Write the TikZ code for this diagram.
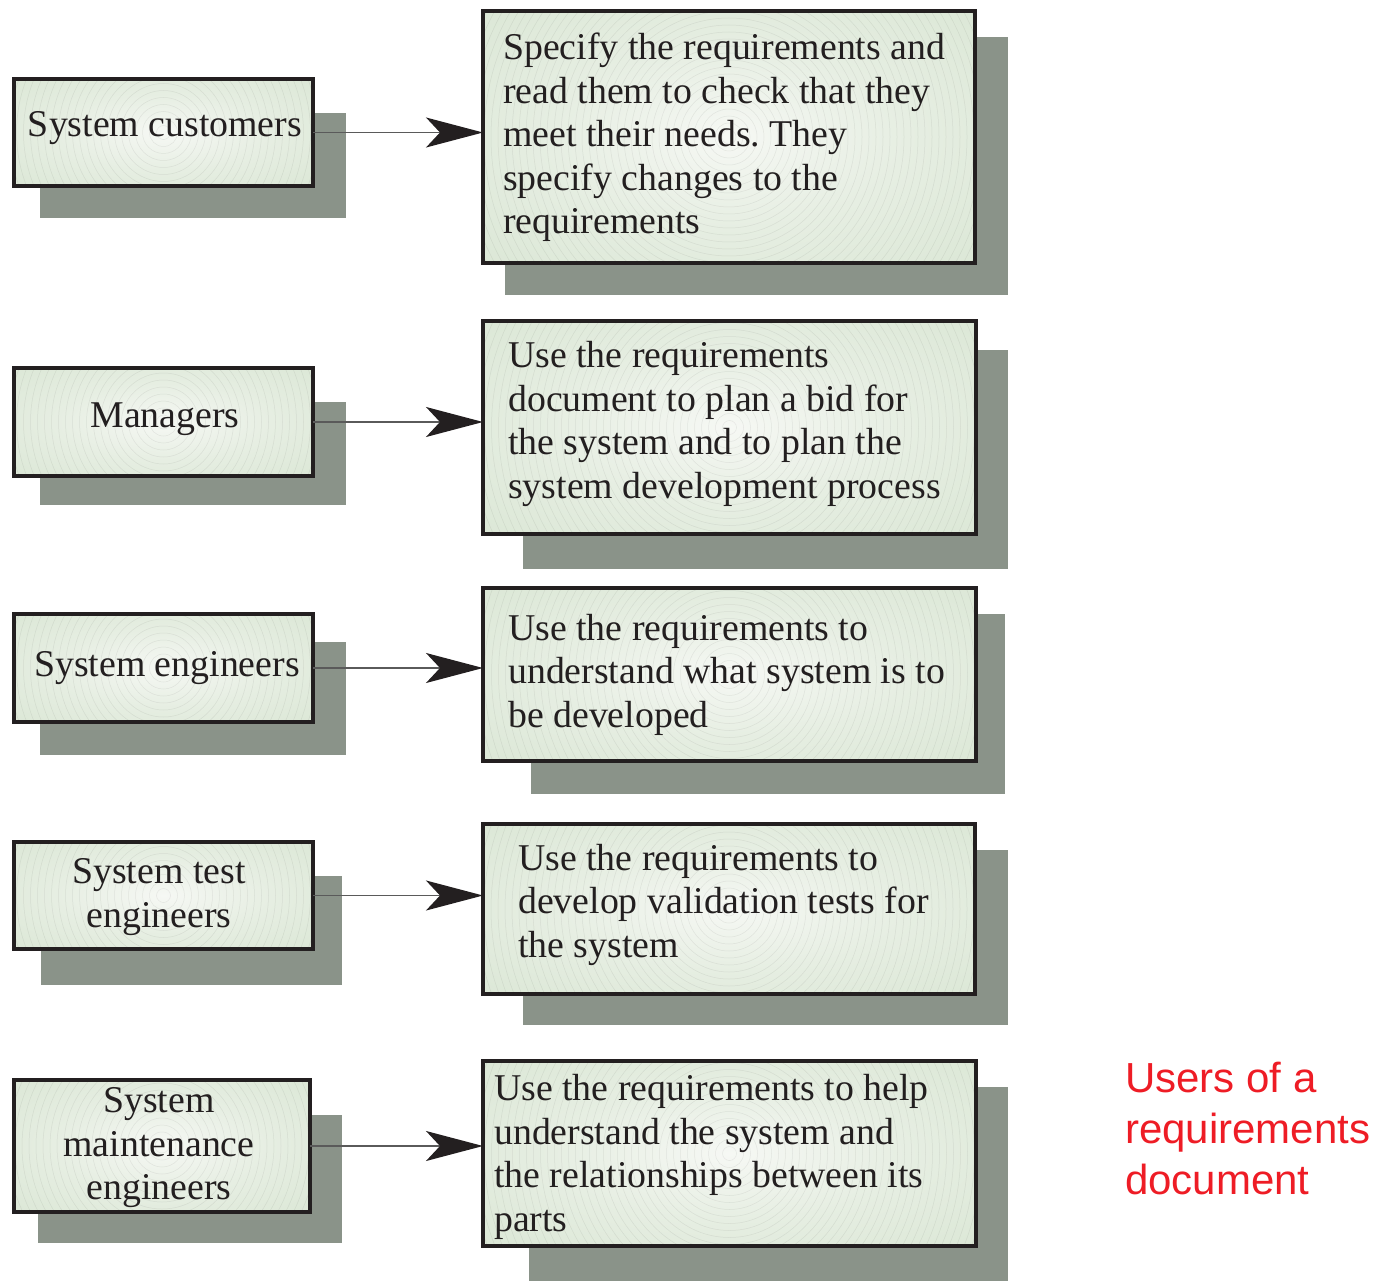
\documentclass[tikz,border=0pt]{standalone}
\usepackage{fontspec}
\setmainfont{Liberation Serif}
\newfontfamily\notesans{Liberation Sans}
\usetikzlibrary{arrows.meta}
\frenchspacing

\definecolor{ink}{HTML}{231F20}
\definecolor{dropgray}{HTML}{8A9389}
\definecolor{paleinner}{HTML}{F6F8F4}
\definecolor{palemid}{HTML}{E6EEE2}
\definecolor{paleouter}{HTML}{D6E4D0}
\definecolor{notered}{HTML}{EE1C25}
\definecolor{wire}{HTML}{5A5A5A}

% soft glow from the middle of each card out to its corners
\pgfdeclareradialshading{cardglow}{\pgfpoint{0bp}{0bp}}{%
  color(0bp)=(paleinner); color(18bp)=(palemid); color(45bp)=(paleouter);
  color(100bp)=(paleouter)}

\tikzset{
  usercard/.style={rectangle, draw=ink, line width=4pt, shading=cardglow,
    inner sep=0pt, outer sep=0pt},
  dropshade/.style={fill=dropgray},
  ringline/.style={draw=ink, opacity=0.08, line width=0.5pt},
  cardtext/.style={text=ink, font=\fontsize{37.8}{43.5}\selectfont,
    inner sep=0pt, align=left, anchor=west},
  roletext/.style={text=ink, font=\fontsize{37.8}{43.5}\selectfont,
    inner sep=0pt, align=center},
  flow/.style={draw=wire, line width=1.5pt,
    -{Stealth[length=57pt, width=30pt, inset=14pt, color=ink]}},
}

% fine concentric rings inside a card
\newcommand\cardrings[1]{%
  \begin{scope}
    \clip ([shift={(2pt,-2pt)}]#1.north west) rectangle ([shift={(-2pt,2pt)}]#1.south east);
    \foreach \rr in {7,14,...,287} \draw[ringline] (#1.center) circle[radius=\rr pt];
  \end{scope}}

\begin{document}
\begin{tikzpicture}[x=1pt, y=-1pt]
  \useasboundingbox (0,0) rectangle (1378,1281);

  % drop shadows behind the cards
  \fill[dropshade] (40,113) rectangle (346,218);
  \fill[dropshade] (40,402) rectangle (346,505);
  \fill[dropshade] (40,642) rectangle (346,755);
  \fill[dropshade] (41,876) rectangle (342,985);
  \fill[dropshade] (38,1115) rectangle (342,1243);

  \fill[dropshade] (505,37) rectangle (1008,295);
  \fill[dropshade] (523,350) rectangle (1008,569);
  \fill[dropshade] (531,614) rectangle (1005,794);
  \fill[dropshade] (523,850) rectangle (1008,1025);
  \fill[dropshade] (529,1087) rectangle (1008,1281);

  % user cards
  \node[usercard, minimum width=299pt, minimum height=107pt] (l1) at (163.5,132.5) {};
  \node[usercard, minimum width=299pt, minimum height=108pt] (l2) at (163.5,422) {};
  \node[usercard, minimum width=299pt, minimum height=108pt] (l3) at (163.5,668) {};
  \node[usercard, minimum width=299pt, minimum height=107pt] (l4) at (163.5,895.5) {};
  \node[usercard, minimum width=296pt, minimum height=132pt] (l5) at (162,1146) {};

  % use cards
  \node[usercard, minimum width=492pt, minimum height=252pt] (r1) at (729,137) {};
  \node[usercard, minimum width=493pt, minimum height=213pt] (r2) at (729.5,427.5) {};
  \node[usercard, minimum width=493pt, minimum height=173pt] (r3) at (729.5,674.5) {};
  \node[usercard, minimum width=492pt, minimum height=170pt] (r4) at (729,909) {};
  \node[usercard, minimum width=493pt, minimum height=185pt] (r5) at (729.5,1153.5) {};

  \foreach \cardname in {l1,l2,l3,l4,l5,r1,r2,r3,r4,r5} {\cardrings{\cardname}}

  % role labels
  \node[roletext] (t1) at (165,128.5) {System customers};
  \node[roletext] (t2) at (165,419.5) {Managers};
  \node[roletext] (t3) at (167,668.5) {System engineers};
  \node[roletext] (t4) at (159,897) {System test\\engineers};
  \node[roletext] (t5) at (159,1148) {System\\maintenance\\engineers};

  % use descriptions
  \node[cardtext] (u1) at (503,137.5) {Specify the requirements and\\read them to check that they\\meet their needs. They\\specify changes to the\\requirements};
  \node[cardtext] (u2) at (508,424) {Use the requirements\\document to plan a bid for\\the system and to plan the\\system development process};
  \node[cardtext] (u3) at (508,674.5) {Use the requirements to\\understand what system is to\\be developed};
  \node[cardtext] (u4) at (518,904.5) {Use the requirements to\\develop validation tests for\\the system};
  \node[cardtext] (u5) at (494,1157) {Use the requirements to help\\understand the system and\\the relationships between its\\parts};

  % connectors
  \draw[flow] (l1.east) -- (l1.east -| r1.west);
  \draw[flow] (l2.east) -- (l2.east -| r2.west);
  \draw[flow] (l3.east) -- (l3.east -| r3.west);
  \draw[flow] (l4.east) -- (l4.east -| r4.west);
  \draw[flow] (l5.east) -- (l5.east -| r5.west);

  % caption
  \node[text=notered, font=\notesans\fontsize{42}{51}\selectfont, align=left,
        anchor=west, inner sep=0pt] (cap) at (1125,1128)
        {Users of a\\requirements\\document};
\end{tikzpicture}
\end{document}
